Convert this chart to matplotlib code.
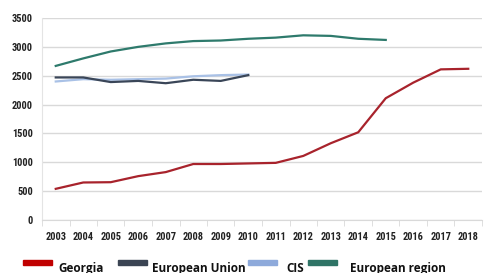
import numpy as np
import matplotlib.pyplot as plt
from matplotlib.patches import Rectangle

years = [str(y) for y in range(2003, 2019)]
georgia = [540, 650, 655, 760, 830, 970, 970, 980, 990, 1110, 1330, 1520, 2110, 2380, 2610, 2620]
eu = [2470, 2470, 2390, 2410, 2370, 2430, 2410, 2510]
cis = [2400, 2440, 2430, 2440, 2450, 2490, 2510, 2520]
euro_region = [2670, 2800, 2920, 3000, 3060, 3100, 3110, 3140, 3160, 3200, 3190, 3140, 3120]

legend_labels = ['Georgia', 'European Union', 'CIS', 'European region']
legend_colors = ['#C00000', '#3B4453', '#8EAADB', '#2F7466']

W, H = 487, 273
fig = plt.figure(figsize=(W / 100, H / 100), dpi=100)
ax = fig.add_axes([42 / W, 53 / H, 440 / W, 202 / H])

x = np.arange(len(years))
ax.plot(x[:len(euro_region)], euro_region, color='#2E7A6C', lw=1.6)
ax.plot(x[:len(cis)], cis, color='#A9C1E6', lw=1.6)
ax.plot(x[:len(eu)], eu, color='#3A4658', lw=1.6)
ax.plot(x, georgia, color='#A8232C', lw=1.6)

ax.set_xlim(-0.5, len(years) - 0.5)
ax.set_ylim(0, 3500)
ax.set_yticks(range(0, 3501, 500))
ax.set_xticks(x)
ax.set_xticklabels(years)
ax.set_xticks(np.arange(-0.5, len(years), 1), minor=True)
ax.grid(axis='y', color='#D9D9D9', lw=1)
ax.set_axisbelow(True)
for s in ['top', 'right']:
    ax.spines[s].set_visible(False)
ax.spines['left'].set_color('#E4E4E4')
ax.spines['bottom'].set_color('#D9D9D9')
ax.tick_params(axis='x', which='major', length=0, pad=8.5)
ax.tick_params(axis='x', which='minor', length=4, color='#D9D9D9')
ax.tick_params(axis='y', length=0, pad=6.5)
for lab in ax.get_xticklabels() + ax.get_yticklabels():
    lab.set_fontfamily(['Roboto Condensed', 'Liberation Sans Narrow', 'Liberation Sans'])
    lab.set_fontweight('bold')
    lab.set_fontsize(7.5)
    lab.set_color('#222222')

# cropped title remnant at the very top
fig.text(9 / W, 1 + 4 / H, 'y', fontsize=9, va='baseline', color='#222222',
         family='Open Sans', fontweight='bold')

# legend drawn by hand to match the uneven spacing
handle_x = [23, 118, 248, 308]
text_x = [58, 152, 286, 350]
for hx, tx, lab, col in zip(handle_x, text_x, legend_labels, legend_colors):
    fig.add_artist(Rectangle((hx / W, 8 / H), 29 / W, 5 / H, color=col,
                             transform=fig.transFigure))
    fig.text(tx / W, 1 / H, lab, fontsize=8.5, va='baseline', ha='left',
             family='Open Sans', fontweight='bold', color='#111111')

fig.savefig('out.png', dpi=100)
